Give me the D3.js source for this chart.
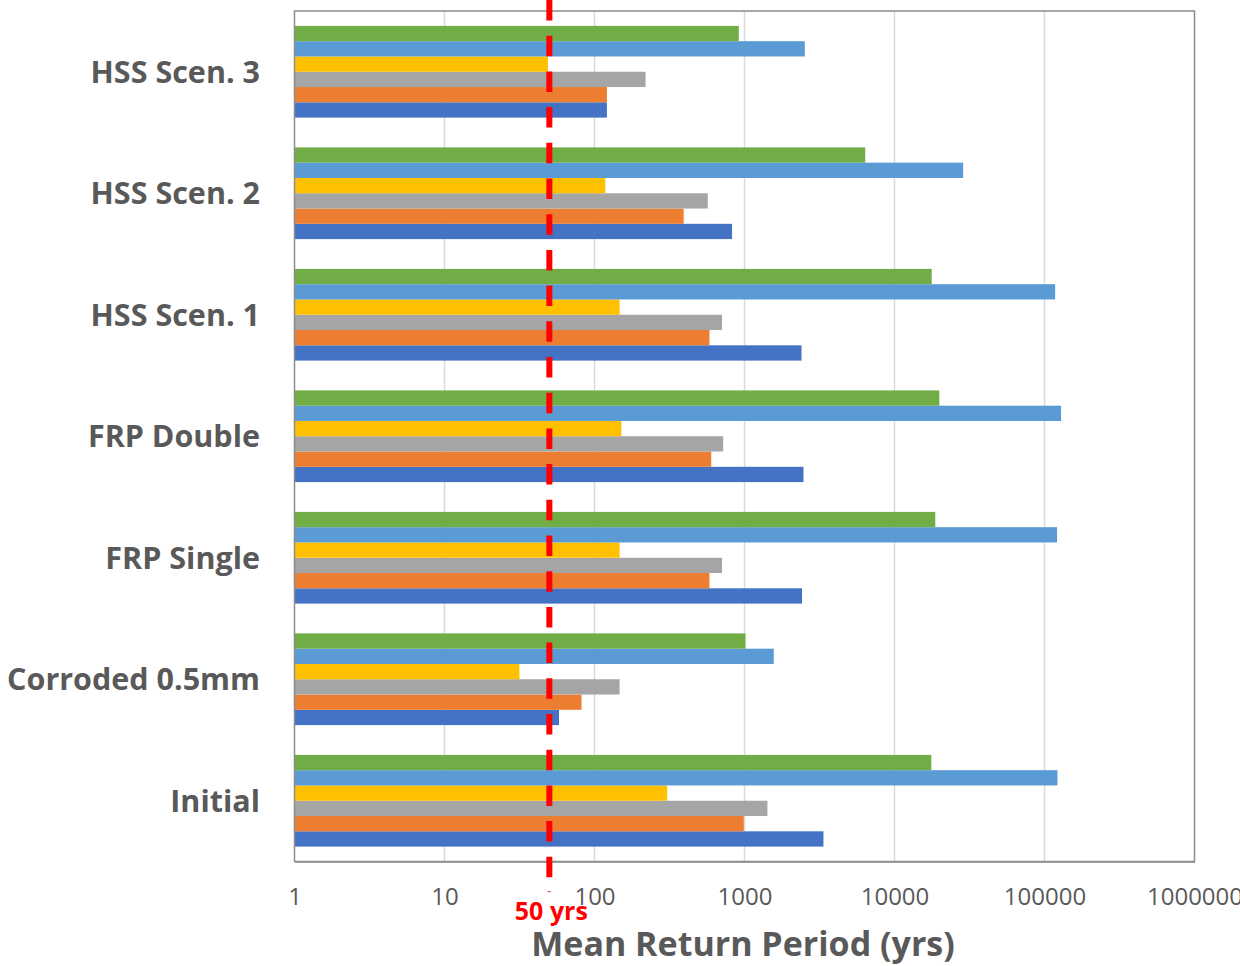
<!DOCTYPE html>
<html>
<head>
<meta charset="utf-8">
<script src="https://cdn.jsdelivr.net/npm/d3@7"></script>
<style>
  html, body { margin: 0; padding: 0; background: #fff; }
  svg { display: block; }
</style>
</head>
<body>
<svg id="chart" width="1240" height="966"></svg>
<script>
// Categories (bottom to top as in the chart)
const categories = ["Initial", "Corroded 0.5mm", "FRP Single", "FRP Double", "HSS Scen. 1", "HSS Scen. 2", "HSS Scen. 3"];

// Series values (same order as categories); series1 is the bottom bar of each group
const series1 = [3360, 58, 2417, 2472, 2399, 826, 121];          // dark blue
const series2 = [989, 82, 584, 600, 584, 393, 121];              // orange
const series3 = [1422, 147, 708, 721, 708, 569, 219];            // gray
const series4 = [305, 31.6, 147, 151, 147, 118, 48.9];           // yellow
const series5 = [122000, 1567, 121300, 129000, 117800, 28700, 2523]; // light blue
const series6 = [17600, 1016, 18700, 19900, 17700, 6380, 916];   // green

const seriesNames = ["series1", "series2", "series3", "series4", "series5", "series6"];
const seriesColors = ["#4472C4", "#ED7D31", "#A5A5A5", "#FFC000", "#5B9BD5", "#70AD47"];
const allSeries = [series1, series2, series3, series4, series5, series6];

const tickValues = [1, 10, 100, 1000, 10000, 100000, 1000000];
const tickLabels = ["1", "10", "100", "1000", "10000", "100000", "1000000"];

const referenceValue = 50;
const referenceLabel = "50 yrs";
const xTitle = "Mean Return Period (yrs)";

const svg = d3.select("#chart");
const plot = { left: 294.5, right: 1194.5, top: 11, bottom: 861.5 };

const x = d3.scaleLog().domain([1, 1000000]).range([plot.left, plot.right]);
const y0 = d3.scaleBand()
  .domain(categories.slice().reverse())
  .range([plot.top, plot.bottom])
  .padding(0);
const y1 = d3.scaleBand()
  .domain(seriesNames.slice().reverse())
  .range([0, y0.bandwidth()])
  .paddingInner(0)
  .paddingOuter(0.975);

// gridlines
svg.append("g")
  .selectAll("line")
  .data(tickValues.slice(1, -1))
  .join("line")
  .attr("x1", d => x(d)).attr("x2", d => x(d))
  .attr("y1", plot.top).attr("y2", plot.bottom)
  .attr("stroke", "#D9D9D9")
  .attr("stroke-width", 1.5);

// bars
const groups = svg.append("g")
  .selectAll("g")
  .data(categories)
  .join("g")
  .attr("transform", d => `translate(0,${y0(d)})`);

groups.selectAll("rect")
  .data((c, ci) => seriesNames.map((s, si) => ({ s, v: allSeries[si][ci], color: seriesColors[si] })))
  .join("rect")
  .attr("x", x(1))
  .attr("y", d => y1(d.s))
  .attr("width", d => x(d.v) - x(1))
  .attr("height", y1.bandwidth())
  .attr("fill", d => d.color);

// plot frame
svg.append("rect")
  .attr("x", plot.left).attr("y", plot.top)
  .attr("width", plot.right - plot.left)
  .attr("height", plot.bottom - plot.top)
  .attr("fill", "none")
  .attr("stroke", "#8C8C8C")
  .attr("stroke-width", 1.5);

// x axis
const xAxis = d3.axisBottom(x)
  .tickValues(tickValues)
  .tickFormat((d, i) => tickLabels[i])
  .tickSize(0)
  .tickPadding(0);
const gx = svg.append("g")
  .attr("transform", `translate(0,${plot.bottom})`)
  .call(xAxis);
gx.select(".domain").attr("stroke", "#8C8C8C").attr("stroke-width", 1.5);
gx.selectAll("text")
  .attr("y", 43)
  .attr("dy", 0)
  .attr("font-family", "'Open Sans', sans-serif")
  .attr("font-size", 24)
  .attr("fill", "#595959");

// y axis labels
const yAxis = d3.axisLeft(y0).tickSize(0).tickPadding(0);
const gy = svg.append("g")
  .attr("transform", `translate(${plot.left},0)`)
  .call(yAxis);
gy.select(".domain").remove();
gy.selectAll("text")
  .attr("x", 260 - plot.left)
  .attr("dy", "0.36em")
  .attr("text-anchor", "end")
  .attr("font-family", "'Open Sans', sans-serif")
  .attr("font-weight", "bold")
  .attr("font-size", 30.5)
  .attr("fill", "#595959");

// reference line
svg.append("line")
  .attr("x1", x(referenceValue)).attr("x2", x(referenceValue))
  .attr("y1", 0).attr("y2", 878)
  .attr("stroke", "#FF0000")
  .attr("stroke-width", 6)
  .attr("stroke-dasharray", "20.5,15.2");

svg.append("text")
  .attr("x", x(referenceValue)).attr("y", 896)
  .attr("text-anchor", "middle")
  .attr("font-family", "'Open Sans', sans-serif")
  .attr("font-size", 14)
  .attr("fill", "#D06060")
  .text("-");

svg.append("text")
  .attr("x", x(referenceValue) + 2).attr("y", 920)
  .attr("text-anchor", "middle")
  .attr("font-family", "'Open Sans', sans-serif")
  .attr("font-weight", "bold")
  .attr("font-size", 25)
  .attr("fill", "#FF0000")
  .text(referenceLabel);

// x title
svg.append("text")
  .attr("x", 743).attr("y", 956)
  .attr("text-anchor", "middle")
  .attr("font-family", "'Open Sans', sans-serif")
  .attr("font-weight", "bold")
  .attr("font-size", 34)
  .attr("fill", "#595959")
  .text(xTitle);
</script>
</body>
</html>
